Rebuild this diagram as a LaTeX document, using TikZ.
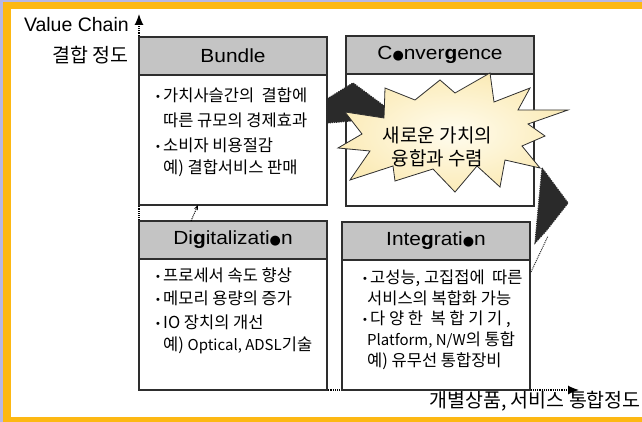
\documentclass[tikz,border=0pt]{standalone}
\usepackage{fontspec}
\usetikzlibrary{arrows.meta}
\setmainfont{Liberation Sans}
\newfontfamily\kr{Noto Sans CJK KR}[WordSpace=2]
\newfontfamily\krplain{Noto Sans CJK KR}
\newfontfamily\hdr{Liberation Sans}[FakeStretch=1.1]
\newfontfamily\dotfont{DejaVu Sans}
\definecolor{lav}{HTML}{B7B7E6}
\definecolor{orng}{HTML}{FDB813}
\definecolor{hdrgray}{HTML}{C4C4C4}
\definecolor{boxline}{HTML}{2E2E2E}
\definecolor{darkarr}{HTML}{2A2A2A}
\definecolor{starin}{HTML}{FFFCEE}
\definecolor{starout}{HTML}{FBEBB8}
\newcommand\bulitem{\makebox[7pt][l]{\normalfont\fontsize{11}{11}\selectfont\raisebox{1pt}{•}}}
\newcommand\hdot{{\dotfont\fontsize{13}{13}\selectfont ●}}
\newcommand\hg{{\bfseries g}}
\newcommand\lat[1]{{\fontsize{15}{17}\selectfont #1}}
\begin{document}
\begin{tikzpicture}[x=1pt,y=-1pt,
  boxbody/.style={draw=boxline, line width=1.4pt, fill=white, minimum width=188pt, inner sep=0pt},
  boxhead/.style={draw=boxline, line width=1.4pt, fill=hdrgray, minimum width=188pt, minimum height=38pt, inner sep=0pt, font=\hdr\fontsize{19}{22}\selectfont},
  bodytxt/.style={font=\kr\fontsize{16.5}{19}\selectfont, anchor=west, inner sep=0pt},
  axislabel/.style={font=\krplain\fontsize{19.5}{22}\selectfont, anchor=east, inner sep=0pt},
  axis/.style={densely dotted, line width=1.2pt, black, -{Latex[length=11pt,width=9pt]}},
  darkshape/.style={fill=darkarr, draw=darkarr, densely dotted, line width=1.2pt}
]
% background and frame
\fill[lav] (0,0) rectangle (642,422);
\fill[orng] (3,2) rectangle (642,422);
\fill[white] (11,9) rectangle (642,417);
\useasboundingbox (0,0) rectangle (642,422);

% axes
\coordinate (origin) at (139,390);
\coordinate (ytip) at (139,14);
\coordinate (xtip) at (579,390);
\draw[axis] (origin) -- (ytip);
\draw[axis] (origin) -- (xtip);

\node[font=\fontsize{19.5}{22}\selectfont, anchor=east, inner sep=0pt] (vc) at (129,25) {Value Chain};
\node[axislabel] (vcd) at (129,55) {결합 정도};
\node[axislabel] (xl) at (641,401) {개별상품, 서비스 통합정도};

% boxes
\node[boxbody, minimum height=168pt] (bun) at (233,121) {};
\node[boxhead, anchor=north] (bunh) at (bun.north) {Bundle};
\node[boxbody, minimum height=170pt] (con) at (440,121) {};
\node[boxhead, anchor=north] (conh) at (con.north) {C\hdot nver\hg ence};
\node[boxbody, minimum height=169pt] (dig) at (233,305.5) {};
\node[boxhead, anchor=north] (digh) at (dig.north) {Di\hg italizati\hdot n};
\node[boxbody, minimum height=168pt] (int) at (436,306) {};
\node[boxhead, anchor=north] (inth) at (int.north) {Inte\hg rati\hdot n};

% Bundle text
\node[bodytxt] (b1) at (156,95) {\bulitem 가치사슬간의\ \ 결합에};
\node[bodytxt] (b2) at (156,120) {\hspace*{7pt}따른 규모의 경제효과};
\node[bodytxt] (b3) at (156,145) {\bulitem 소비자 비용절감};
\node[bodytxt] (b4) at (156,168) {\hspace*{7pt}예) 결합서비스 판매};

% Digitalization text
\node[bodytxt] (d1) at (156,275) {\bulitem 프로세서 속도 향상};
\node[bodytxt] (d2) at (156,298) {\bulitem 메모리 용량의 증가};
\node[bodytxt] (d3) at (156,322) {\bulitem IO 장치의 개선};
\node[bodytxt] (d4) at (156,345) {\hspace*{7pt}예) \lat{Optical, ADSL}기술};

% Integration text
\node[bodytxt] (i1) at (363,278) {\bulitem 고성능,\ 고집접에\ \ 따른};
\node[bodytxt] (i2) at (363,298) {\hspace*{4pt}서비스의 복합화 가능};
\node[bodytxt] (i3) at (363,319) {\bulitem 다 양 한\ \ 복 합 기 기 ,};
\node[bodytxt] (i4) at (363,340) {\hspace*{4pt}\lat{Platform, N/W}의 통합};
\node[bodytxt] (i5) at (363,361) {\hspace*{4pt}예) 유무선 통합장비};

% dark arrow from Bundle to Convergence
\filldraw[darkshape] (327,99) -- (353,83) -- (399,117) -- (327,123) -- cycle;

% starburst
\shade[inner color=starin, outer color=starout, draw=boxline, line width=0.8pt]
  (440,80) -- (455,93) -- (490,73) -- (494,102) -- (530,88) -- (518,110)
  -- (568,110) -- (528,124) -- (545,136) -- (522,146) -- (540,168) -- (505,160)
  -- (500,187) -- (477,166) -- (455,192) -- (433,169) -- (395,181) -- (393,166)
  -- (350,180) -- (370,151) -- (338,148) -- (362,134) -- (345,112) -- (384,118)
  -- (385,88) -- (415,100) -- cycle;
\node[font=\krplain\fontsize{19}{21}\selectfont, inner sep=0pt] (s1) at (437.5,135) {새로운 가치의};
\node[font=\krplain\fontsize{19}{21}\selectfont, inner sep=0pt] (s2) at (437.5,158) {융합과 수렴};

% dark arrow from Integration to Convergence
\coordinate (tailA) at (531,272);
\coordinate (tailB) at (548,236);
\draw[densely dotted, line width=1pt, darkarr] (tailA) -- (tailB);
\filldraw[darkshape] (542,168) -- (568,203) -- (546,231) -- (535,243) -- cycle;

% small arrow from Digitalization to Bundle
\coordinate (sa) at (191,221);
\coordinate (sb) at (198,205);
\draw[densely dotted, line width=1pt, -{Stealth[length=5pt,width=4pt]}] (sa) -- (sb);
\end{tikzpicture}
\end{document}
